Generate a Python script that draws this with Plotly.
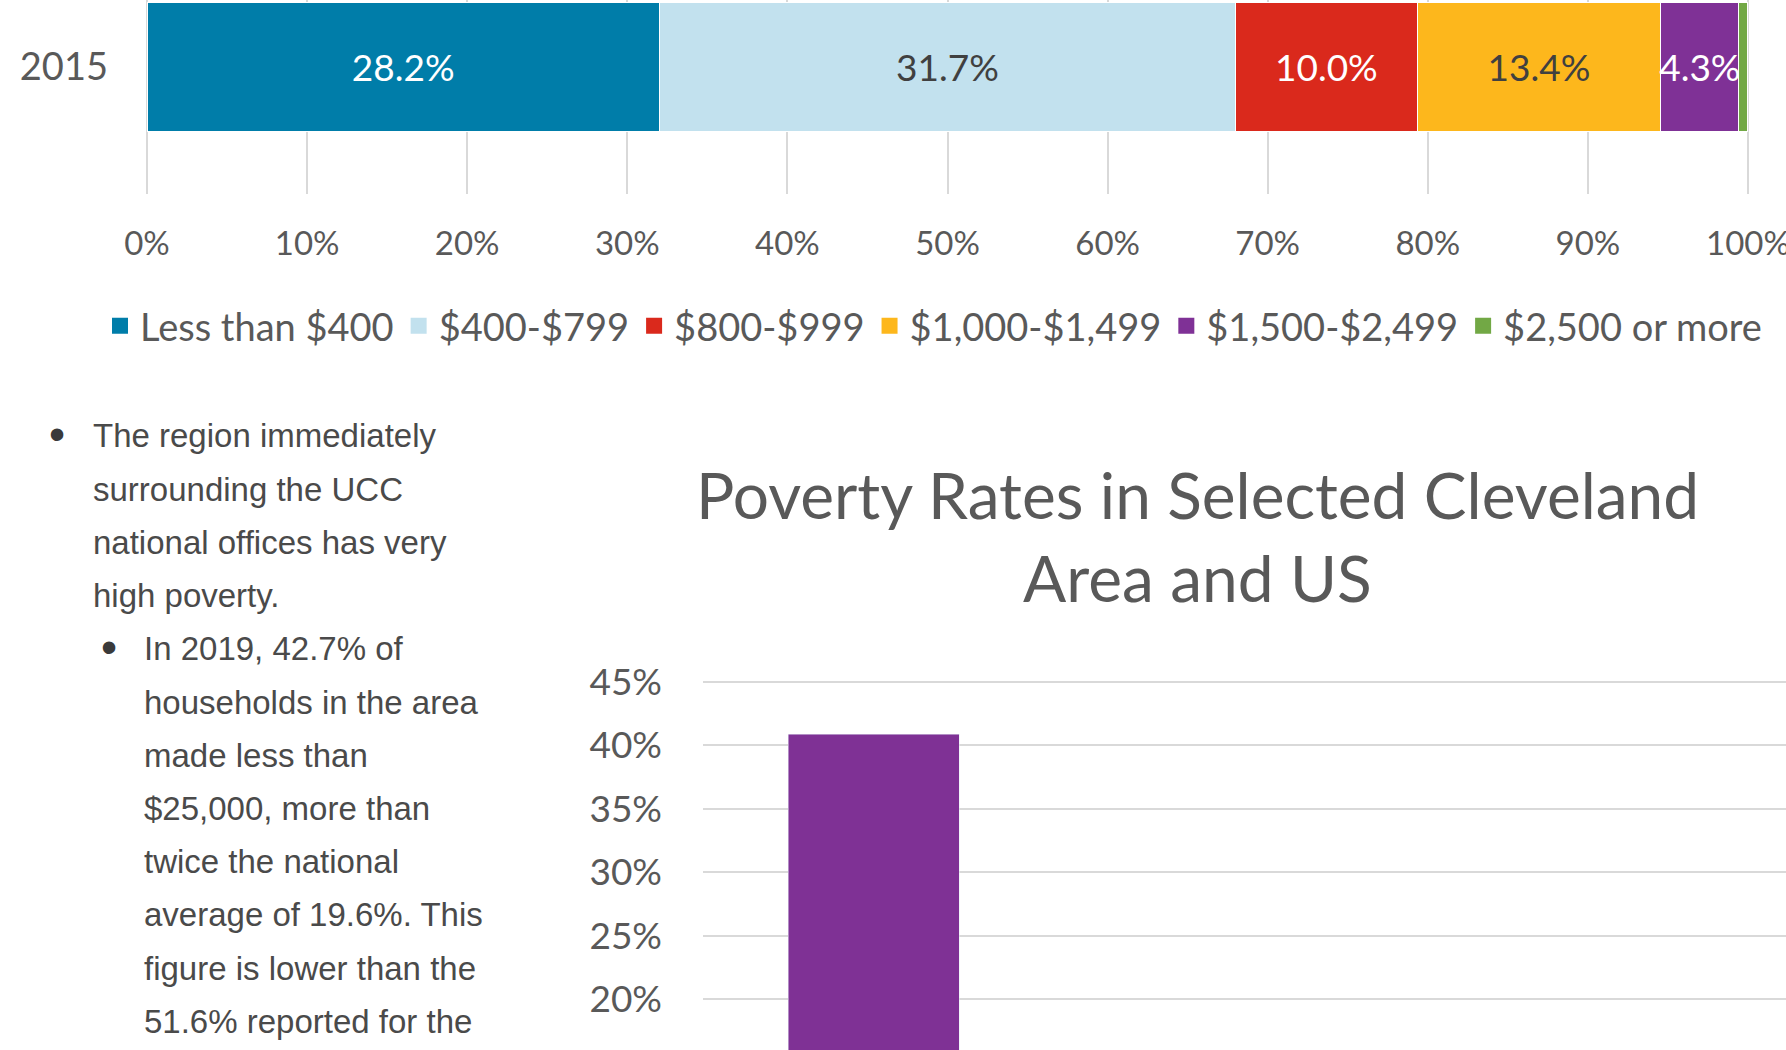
import plotly.graph_objects as go

# ---------------- Data ----------------
# Top chart: share of renter households by gross rent (100% stacked bar)
years = ["2015"]
rent_categories = ["Less than $400", "$400-$799", "$800-$999",
                   "$1,000-$1,499", "$1,500-$2,499", "$2,500 or more"]
rent_values_2015 = [28.2, 31.7, 10.0, 13.4, 4.3, 0.5]
rent_colors = ["#007DA9", "#C2E1EE", "#DA291C", "#FDB71C", "#7F3196", "#72A845"]
rent_label_colors = ["#FFFFFF", "#404040", "#FFFFFF", "#404040", "#FFFFFF", "#FFFFFF"]
pct_ticks = list(range(0, 101, 10))

# Bottom chart: poverty rates
poverty_areas = ["UCC Region"]
poverty_rates = [40.9]
poverty_ticks = [15, 20, 25, 30, 35, 40, 45]
poverty_title_lines = ["Poverty Rates in Selected Cleveland", "Area and US"]

# Bullet text
bullet_main = ["The region immediately", "surrounding the UCC",
               "national offices has very", "high poverty."]
bullet_sub = ["In 2019, 42.7% of", "households in the area", "made less than",
              "$25,000, more than", "twice the national", "average of 19.6%. This",
              "figure is lower than the", "51.6% reported for the"]

# ---------------- Layout helpers ----------------
W, H = 1786, 1050
def px(x):
    return x / W
def py(y):
    return 1 - y / H

AX_FONT = "Lato, 'Open Sans', sans-serif"
GREY = "#595959"

# 100%-stacked: each segment's share of the bar total
rent_total = sum(rent_values_2015)
rent_shares = [v / rent_total * 100 for v in rent_values_2015]

fig = go.Figure()

for name, val, share, col, lc in zip(rent_categories, rent_values_2015, rent_shares,
                                     rent_colors, rent_label_colors):
    fig.add_trace(go.Bar(
        y=years, x=[share], orientation="h", name=name,
        marker=dict(color=col, line=dict(color="#FFFFFF", width=1)),
        width=1.0,
        text=[f"{val:.1f}%" if val >= 1 else ""],
        textposition="inside", insidetextanchor="middle", textangle=0,
        constraintext="none",
        insidetextfont=dict(family=AX_FONT, size=37, color=lc),
        showlegend=False, hoverinfo="skip",
        xaxis="x", yaxis="y",
    ))

# Legend entries (square markers)
for name, col in zip(rent_categories, rent_colors):
    fig.add_trace(go.Scatter(
        x=[None], y=[None], mode="markers", name=name,
        marker=dict(symbol="square", size=20, color=col),
        xaxis="x", yaxis="y", showlegend=True, hoverinfo="skip",
    ))

# Poverty bar chart
fig.add_trace(go.Bar(
    x=poverty_areas, y=poverty_rates, width=0.5,
    marker=dict(color="#7F3195"), showlegend=False, hoverinfo="skip",
    xaxis="x2", yaxis="y2",
))

annotations = []
for line, yy in zip(poverty_title_lines, [494, 577]):
    annotations.append(dict(
        text=line, x=px(1197), y=py(yy), xref="paper", yref="paper",
        xanchor="center", yanchor="middle", showarrow=False,
        font=dict(family=AX_FONT, size=64, color=GREY),
    ))

TXT_FONT = dict(family="'Liberation Sans', Arial, sans-serif", size=33, color="#4A4A4A")
BULLET_FONT = dict(family="'Liberation Sans', Arial, sans-serif", size=46, color="#3A3A3A")
line_y0, line_dy = 436, 53.2
lines = [(91, t) for t in bullet_main] + [(142, t) for t in bullet_sub]
for i, (xx, t) in enumerate(lines):
    annotations.append(dict(
        text=t, x=px(xx), y=py(line_y0 + i * line_dy), xref="paper", yref="paper",
        xanchor="left", yanchor="middle", showarrow=False, font=TXT_FONT,
    ))
for xx, idx in [(57, 0), (109, len(bullet_main))]:
    annotations.append(dict(
        text="\u2022", x=px(xx), y=py(line_y0 + idx * line_dy - 2), xref="paper", yref="paper",
        xanchor="center", yanchor="middle", showarrow=False, font=BULLET_FONT,
    ))

fig.update_layout(
    width=W, height=H,
    margin=dict(l=0, r=0, t=0, b=0, pad=0, autoexpand=False),
    paper_bgcolor="white", plot_bgcolor="white",
    barmode="stack",
    uniformtext=dict(minsize=37, mode="show"),
    hovermode=False,
    showlegend=True,
    legend=dict(
        orientation="h", x=px(100), xanchor="left", y=py(326), yanchor="middle",
        font=dict(family=AX_FONT, size=38, color=GREY), traceorder="normal",
        bgcolor="rgba(0,0,0,0)", itemsizing="trace",
    ),
    xaxis=dict(
        domain=[px(137), px(1758)], anchor="y", automargin=False,
        range=[-0.625, 100.625],
        tickvals=pct_ticks, ticktext=[f"{t}%" for t in pct_ticks],
        showgrid=True, gridcolor="#D9D9D9", gridwidth=1.5,
        zeroline=False, showline=False, ticks="",
        tickfont=dict(family=AX_FONT, size=33, color=GREY),
        ticklabelstandoff=27, ticklabeloverflow="allow",
    ),
    yaxis=dict(
        domain=[py(194), 1], anchor="x", type="category", automargin=False,
        range=[-0.992, 0.523], showgrid=False, zeroline=False, showline=False,
        ticks="", tickfont=dict(family=AX_FONT, size=38, color=GREY),
        ticklabelstandoff=28,
    ),
    xaxis2=dict(
        domain=[px(703), 1], anchor="y2", type="category", automargin=False,
        range=[-0.5, 2.667], showticklabels=False, showgrid=False,
        zeroline=False, showline=False, ticks="",
    ),
    yaxis2=dict(
        domain=[0, py(672)], anchor="x2", automargin=False,
        range=[15.98, 45.79],
        tickvals=poverty_ticks, ticktext=[f"{t}%" for t in poverty_ticks],
        showgrid=True, gridcolor="#D9D9D9", gridwidth=2,
        zeroline=False, showline=False, ticks="",
        tickfont=dict(family=AX_FONT, size=37, color=GREY),
        ticklabelstandoff=40,
    ),
    annotations=annotations,
)

fig.write_html("out.html", config={"displayModeBar": False},
               post_script="document.body.style.margin='0';document.body.style.overflow='hidden';")
